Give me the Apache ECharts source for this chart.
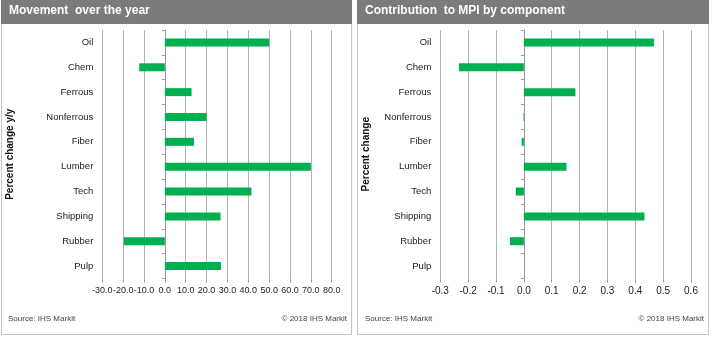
<!DOCTYPE html>
<html><head><meta charset="utf-8">
<script src="https://cdn.jsdelivr.net/npm/echarts@6/dist/echarts.min.js"></script>
<style>html,body{margin:0;padding:0;background:#fff}#c{width:714px;height:339px}</style>
</head><body><div id="c"></div>
<script>
const categories = ['Oil','Chem','Ferrous','Nonferrous','Fiber','Lumber','Tech','Shipping','Rubber','Pulp'];
const movement = [50.0, -12.3, 12.8, 20.0, 14.0, 70.0, 41.5, 26.7, -19.7, 26.9];
const contribution = [0.467, -0.233, 0.185, -0.002, -0.008, 0.153, -0.029, 0.433, -0.05, 0];
const leftTitle = 'Movement  over the year';
const rightTitle = 'Contribution  to MPI by component';
const leftYName = 'Percent change y/y';
const rightYName = 'Percent change';
const sourceText = 'Source: IHS Markit';
const copyText = '\u00a9 2018 IHS Markit';

const FONT = 'Liberation Sans, Arial, sans-serif';
const GREEN = '#00b050';
const chart = echarts.init(document.getElementById('c'), null, {renderer:'canvas'});

function valAxis(grid, min, max, interval, fmt, fs){
  return {type:'value', gridIndex:grid, min, max, interval,
    axisLine:{show:false},
    axisTick:{show:true, length:4, lineStyle:{color:'#999'}},
    splitLine:{show:true, lineStyle:{color:'#b4b4b4', width:1}},
    axisLabel:{color:'#222', fontSize:fs, fontFamily:FONT, margin:8, formatter:fmt,
      showMinLabel:true, showMaxLabel:true, hideOverlap:false}};
}
function catAxis(grid, name, gap){
  return {type:'category', gridIndex:grid, data:categories, inverse:true, position:'left',
    axisLine:{show:false, onZero:false}, axisTick:{show:false}, splitLine:{show:false},
    axisLabel:{color:'#222', fontSize:9.5, fontFamily:FONT, margin:9},
    name, nameLocation:'middle', nameGap:gap, nameRotate:90,
    nameTextStyle:{fontWeight:'bold', fontSize:10, color:'#111', fontFamily:FONT}};
}
function zeroAxis(grid){
  return {type:'category', gridIndex:grid, data:categories, inverse:true,
    position:'right', axisLine:{show:true, onZero:true, lineStyle:{color:'#999'}},
    axisTick:{show:true, length:3, inside:true, lineStyle:{color:'#999'}},
    axisLabel:{show:false}, splitLine:{show:false}};
}

const option = {
  animation:false,
  backgroundColor:'#fff',
  grid:[
    {left:102.3, right:714-331.7, top:30, bottom:60.5},
    {left:440.3, right:714-691, top:30, bottom:60.5}
  ],
  xAxis:[
    valAxis(0, -30, 80, 10, v=>v.toFixed(1), 9),
    valAxis(1, -0.3, 0.6, 0.1, v=>v.toFixed(1), 10)
  ],
  yAxis:[
    catAxis(0, leftYName, 87),
    catAxis(1, rightYName, 69),
    zeroAxis(0),
    zeroAxis(1)
  ],
  series:[
    {type:'bar', xAxisIndex:0, yAxisIndex:0, data:movement, barWidth:8, itemStyle:{color:GREEN}},
    {type:'bar', xAxisIndex:1, yAxisIndex:1, data:contribution, barWidth:8, itemStyle:{color:GREEN}}
  ],
  graphic:[
    {type:'rect', shape:{x:1.5, y:0.5, width:350, height:334}, style:{fill:null, stroke:'#c4c4c4', lineWidth:1}, z:-1},
    {type:'rect', shape:{x:357.5, y:0.5, width:351, height:334}, style:{fill:null, stroke:'#c4c4c4', lineWidth:1}, z:-1},
    {type:'rect', shape:{x:1, y:0, width:351, height:24}, style:{fill:'#7b7b7b'}},
    {type:'rect', shape:{x:357, y:0, width:352, height:24}, style:{fill:'#7b7b7b'}},
    {type:'text', left:9, top:5, style:{text:leftTitle, fill:'#fff', font:'bold 12px '+FONT}},
    {type:'text', left:365, top:5, style:{text:rightTitle, fill:'#fff', font:'bold 12px '+FONT}},
    {type:'text', left:8, top:315, style:{text:sourceText, fill:'#444', font:'8px '+FONT}},
    {type:'text', right:714-347, top:315, style:{text:copyText, fill:'#444', font:'8px '+FONT}},
    {type:'text', left:365, top:315, style:{text:sourceText, fill:'#444', font:'8px '+FONT}},
    {type:'text', right:714-704, top:315, style:{text:copyText, fill:'#444', font:'8px '+FONT}}
  ]
};
chart.setOption(option);
</script></body></html>
